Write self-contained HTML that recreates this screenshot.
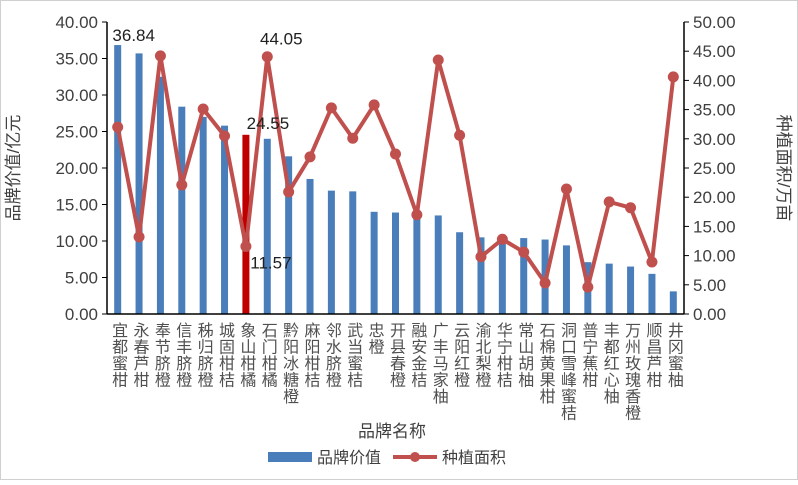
<!DOCTYPE html>
<html><head><meta charset="utf-8"><style>
body{margin:0;background:#fff;}
svg text{font-family:"Liberation Sans","Noto Sans CJK SC",sans-serif;}
</style></head><body>
<svg width="798" height="480" viewBox="0 0 798 480" id="c">
<rect x="0.5" y="0.5" width="797" height="479" fill="#fff" stroke="#d0d0d0"/>
<g id="grid"></g><g id="bars"></g><g id="line"></g><g id="axes"></g>
<text x="392" y="437" font-size="17" text-anchor="middle" fill="#404040">品牌名称</text>
<text transform="translate(19,168) rotate(-90)" font-size="17" text-anchor="middle" fill="#404040">品牌价值/亿元</text>
<text transform="translate(778,168) rotate(90)" font-size="17" text-anchor="middle" fill="#404040">种植面积/万亩</text>
<g>
<rect x="268" y="452" width="44" height="10" fill="#4a7ebb"/>
<text x="317" y="463" font-size="16" fill="#404040">品牌价值</text>
<line x1="393" y1="457" x2="437" y2="457" stroke="#c0504d" stroke-width="4"/>
<circle cx="415" cy="457" r="5" fill="#c0504d"/>
<text x="442" y="463" font-size="16" fill="#404040">种植面积</text>
</g>
</svg>
<script>
const categories=["宜都蜜柑","永春芦柑","奉节脐橙","信丰脐橙","秭归脐橙","城固柑桔","象山柑橘","石门柑橘","黔阳冰糖橙","麻阳柑桔","邻水脐橙","武当蜜桔","忠橙","开县春橙","融安金桔","广丰马家柚","云阳红橙","渝北梨橙","华宁柑桔","常山胡柚","石棉黄果柑","洞口雪峰蜜桔","普宁蕉柑","丰都红心柚","万州玫瑰香橙","顺昌芦柑","井冈蜜柚"];
const brandValue=[36.84,35.7,32.5,28.4,27.0,25.8,24.55,24.0,21.6,18.5,16.9,16.8,14.0,13.9,13.5,13.5,11.2,10.5,10.4,10.4,10.2,9.4,7.1,6.9,6.5,5.5,3.1];
const plantArea=[32.0,13.2,44.2,22.1,35.1,30.5,11.57,44.05,20.9,26.9,35.3,30.1,35.8,27.4,17.0,43.5,30.6,9.8,12.8,10.6,5.3,21.4,4.6,19.2,18.2,8.9,40.6];
const leftTicks=[0,5,10,15,20,25,30,35,40];
const rightTicks=[0,5,10,15,20,25,30,35,40,45,50];
const X0=107,X1=684,Y0=314,Y1=22;
const ns="http://www.w3.org/2000/svg";
const slot=(X1-X0)/categories.length;
const xc=i=>X0+slot*(i+0.5);
const yL=v=>Y0-(v/40)*(Y0-Y1);
const yR=v=>Y0-(v/50)*(Y0-Y1);
function mk(t,a,p){const e=document.createElementNS(ns,t);for(const k in a)e.setAttribute(k,a[k]);p.appendChild(e);return e;}
const bars=document.getElementById('bars'),line=document.getElementById('line'),axes=document.getElementById('axes');
brandValue.forEach((v,i)=>{
 const r=mk('rect',{x:xc(i)-3.5,y:yL(v),width:7,height:Y0-yL(v),fill:i===6?'#c00000':'#4a7ebb'},bars);
 
 
});
let d=plantArea.map((v,i)=>(i?'L':'M')+xc(i)+','+yR(v)).join(' ');
const pl=mk('path',{d:d,fill:'none',stroke:'#c0504d','stroke-width':4,'stroke-linejoin':'round'},line);


plantArea.forEach((v,i)=>{
 const c=mk('circle',{cx:xc(i),cy:yR(v),r:5.5,fill:'#c0504d'},line);
 
 
});
mk('line',{x1:X0,y1:Y1,x2:X0,y2:Y0,stroke:'#000','stroke-width':1.5},axes);
mk('line',{x1:X1,y1:Y1,x2:X1,y2:Y0,stroke:'#000','stroke-width':1.5},axes);
mk('line',{x1:X0,y1:Y0,x2:X1,y2:Y0,stroke:'#000','stroke-width':1.5},axes);
leftTicks.forEach(v=>{
 mk('line',{x1:X0-5,y1:yL(v),x2:X0,y2:yL(v),stroke:'#000'},axes);
 const t=mk('text',{x:X0-9,y:yL(v)+6,'font-size':17,'text-anchor':'end',fill:'#404040'},axes);
 t.textContent=v.toFixed(2);
 
 
});
rightTicks.forEach(v=>{
 mk('line',{x1:X1,y1:yR(v),x2:X1+5,y2:yR(v),stroke:'#000'},axes);
 const t=mk('text',{x:X1+9,y:yR(v)+6,'font-size':17,fill:'#404040'},axes);
 t.textContent=v.toFixed(2);
 
 
});
categories.forEach((c,i)=>{
 const t=mk('text',{x:xc(i),y:322,'font-size':16,fill:'#505050','writing-mode':'tb','glyph-orientation-vertical':0,'letter-spacing':0.5},axes);
 t.textContent=c;
 
 
});
function lbl(txt,x,y,name){const t=mk('text',{x:x,y:y,'font-size':17,fill:'#202020','text-anchor':'middle'},axes);t.textContent=txt;}
lbl(brandValue[0].toFixed(2),xc(0)+16,yL(brandValue[0])-4,'label-max-value');
lbl(plantArea[7].toFixed(2),xc(7)+14,yR(plantArea[7])-12,'label-max-area');
lbl(brandValue[6].toFixed(2),xc(6)+22,yL(brandValue[6])-6,'label-xiangshan-value');
lbl(plantArea[6].toFixed(2),xc(6)+25,yR(plantArea[6])+22,'label-xiangshan-area');
</script>
</body></html>
